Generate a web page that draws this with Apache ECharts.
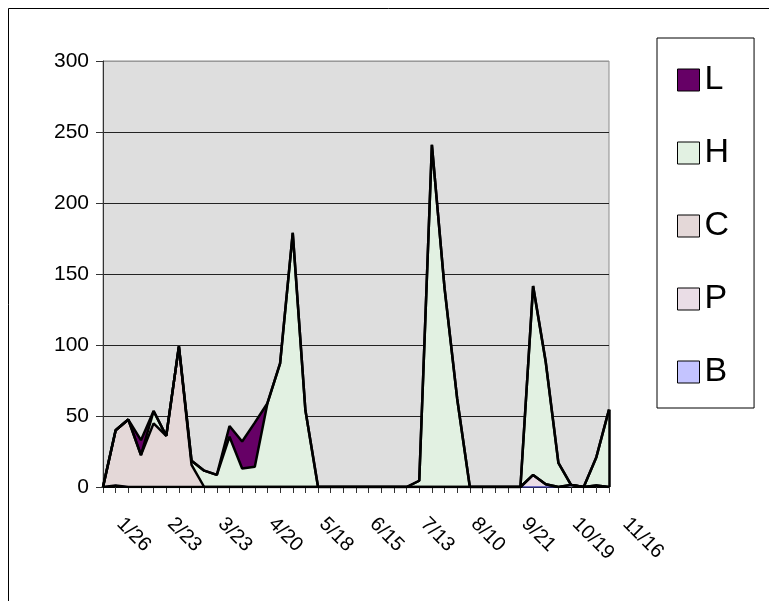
<!DOCTYPE html>
<html>
<head>
<meta charset="utf-8">
<script src="https://cdn.jsdelivr.net/npm/echarts@6/dist/echarts.min.js"></script>
<style>
  html, body { margin: 0; padding: 0; background: #fff; }
  #chart-container { width: 769px; height: 601px; }
</style>
</head>
<body>
<div id="chart-container"></div>
<script>
var dom = document.getElementById("chart-container");
var myChart = echarts.init(dom, null, { renderer: "canvas" });

var font = "Liberation Sans, Arial, sans-serif";

// weekly dates (only every 4th is labelled)
var dates = [
  "1/26", "2/2", "2/9", "2/16", "2/23", "3/2", "3/9", "3/16", "3/23", "3/30",
  "4/6", "4/13", "4/20", "4/27", "5/4", "5/11", "5/18", "5/25", "6/1", "6/8",
  "6/15", "6/22", "6/29", "7/6", "7/13", "7/20", "7/27", "8/3", "8/10", "8/24",
  "9/7", "9/14", "9/21", "9/28", "10/5", "10/12", "10/19", "10/26", "11/2", "11/9",
  "11/16"
];

// stacked from bottom: B, P, C, H, L
var B = [0, 1, 0, 0, 0, 0, 0, 0, 0, 0,
         0, 0, 0, 0, 0, 0, 0, 0, 0, 0,
         0, 0, 0, 0, 0, 0, 0, 0, 0, 0,
         0, 0, 0, 0, 0, 0, 0, 1.5, 0, 1,
         0];
var P = [0, 0, 0, 0, 0, 0, 0, 0, 0, 0,
         0, 0, 0, 0, 0, 0, 0, 0, 0, 0,
         0, 0, 0, 0, 0, 0, 0, 0, 0, 0,
         0, 0, 0, 0, 8.5, 2, 0, 0, 0, 0,
         0];
var C = [0, 39, 47.5, 22.5, 44.8, 36, 99, 15.5, 0, 0,
         0, 0, 0, 0, 0, 0, 0, 0, 0, 0,
         0, 0, 0, 0, 0, 0, 0, 0, 0, 0,
         0, 0, 0, 0, 0, 0, 0, 0, 0, 0,
         0];
var H = [0, 0, 0, 0, 8.7, 0, 0, 3, 11.5, 8.5,
         35.4, 13, 14.3, 59, 87, 179, 54, 0, 0, 0,
         0, 0, 0, 0, 0, 4.4, 241, 140, 62, 0,
         0, 0, 0, 0, 133, 86, 17, 0, 0, 20,
         54.5];
var L = [0, 0, 0, 10.5, 0, 0, 0, 0, 0, 0,
         7.6, 19, 31, 0, 0, 0, 0, 0, 0, 0,
         0, 0, 0, 0, 0, 0, 0, 0, 0, 0,
         0, 0, 0, 0, 0, 0, 0, 0, 0, 0,
         0];

var yTicks = [0, 50, 100, 150, 200, 250, 300];

// closing edge of the stacked area at the last week
var lastIdx = dates.length - 1;
var lastTotal = B[lastIdx] + P[lastIdx] + C[lastIdx] + H[lastIdx] + L[lastIdx];

function area(name, data, fill, lineColor, lineWidth) {
  return {
    name: name,
    type: "line",
    stack: "total",
    data: data,
    showSymbol: false,
    symbol: "none",
    itemStyle: { color: fill },
    lineStyle: { color: lineColor, width: lineWidth },
    areaStyle: { color: fill, opacity: 1 },
  };
}

var seriesList = [
  area("B", B, "#c4c4ff", "#4040b0", 1.5),
  area("P", P, "#eadde6", "#000", 2.5),
  area("C", C, "#e4d8d8", "#000", 2.5),
  area("H", H, "#e2f1e2", "#000", 2.5),
  area("L", L, "#660066", "#000", 2.5),
];
seriesList[4].markLine = {
  silent: true,
  symbol: "none",
  label: { show: false },
  lineStyle: { color: "#000", width: 2.5, type: "solid" },
  data: [[{ coord: [dates[lastIdx], 0] }, { coord: [dates[lastIdx], lastTotal] }]],
};

var option = {
  animation: false,
  backgroundColor: "#fff",
  graphic: [
    {
      type: "polyline",
      shape: { points: [[8.5, 601], [8.5, 8.5], [769, 8.5]] },
      style: { stroke: "#000", lineWidth: 1, fill: null },
    },
  ],
  grid: {
    left: 103,
    right: 160,
    top: 61,
    bottom: 114,
    show: true,
    backgroundColor: "#dedede",
    borderColor: "#8c8c8c",
    borderWidth: 1,
  },
  legend: {
    orient: "vertical",
    left: 657,
    top: 38,
    padding: [24, 25, 18, 20],
    itemGap: 37,
    itemWidth: 22,
    itemHeight: 22,
    itemTextGap: 13,
    icon: "rect",
    backgroundColor: "#fff",
    borderColor: "#000",
    borderWidth: 1,
    itemStyle: { borderColor: "#000", borderWidth: 1 },
    textStyle: { fontSize: 34, lineHeight: 36, color: "#000", fontFamily: font },
    data: ["L", "H", "C", "P", "B"],
  },
  xAxis: {
    type: "category",
    boundaryGap: false,
    data: dates,
    axisLine: { show: true, lineStyle: { color: "#000", width: 2 } },
    axisTick: { show: true, interval: 0, length: 6, lineStyle: { color: "#333" } },
    axisLabel: {
      interval: 3,
      rotate: -45,
      margin: 17,
      padding: [0, 0, 0, 24],
      fontSize: 20,
      color: "#000",
      fontFamily: font,
    },
    splitLine: { show: false },
  },
  yAxis: {
    type: "value",
    min: yTicks[0],
    max: yTicks[yTicks.length - 1],
    interval: 50,
    axisLine: { show: true, lineStyle: { color: "#333", width: 1 } },
    axisTick: { show: true, length: 7, lineStyle: { color: "#333" } },
    axisLabel: { margin: 14, fontSize: 21, color: "#000", fontFamily: font },
    splitLine: {
      show: true,
      lineStyle: {
        color: ["#222", "#222", "#222", "#222", "#222", "#222", "#999"],
        width: 1,
      },
    },
  },
  series: seriesList,
};

myChart.setOption(option);

window.addEventListener("resize", function () {
  myChart.resize();
});
</script>
</body>
</html>
